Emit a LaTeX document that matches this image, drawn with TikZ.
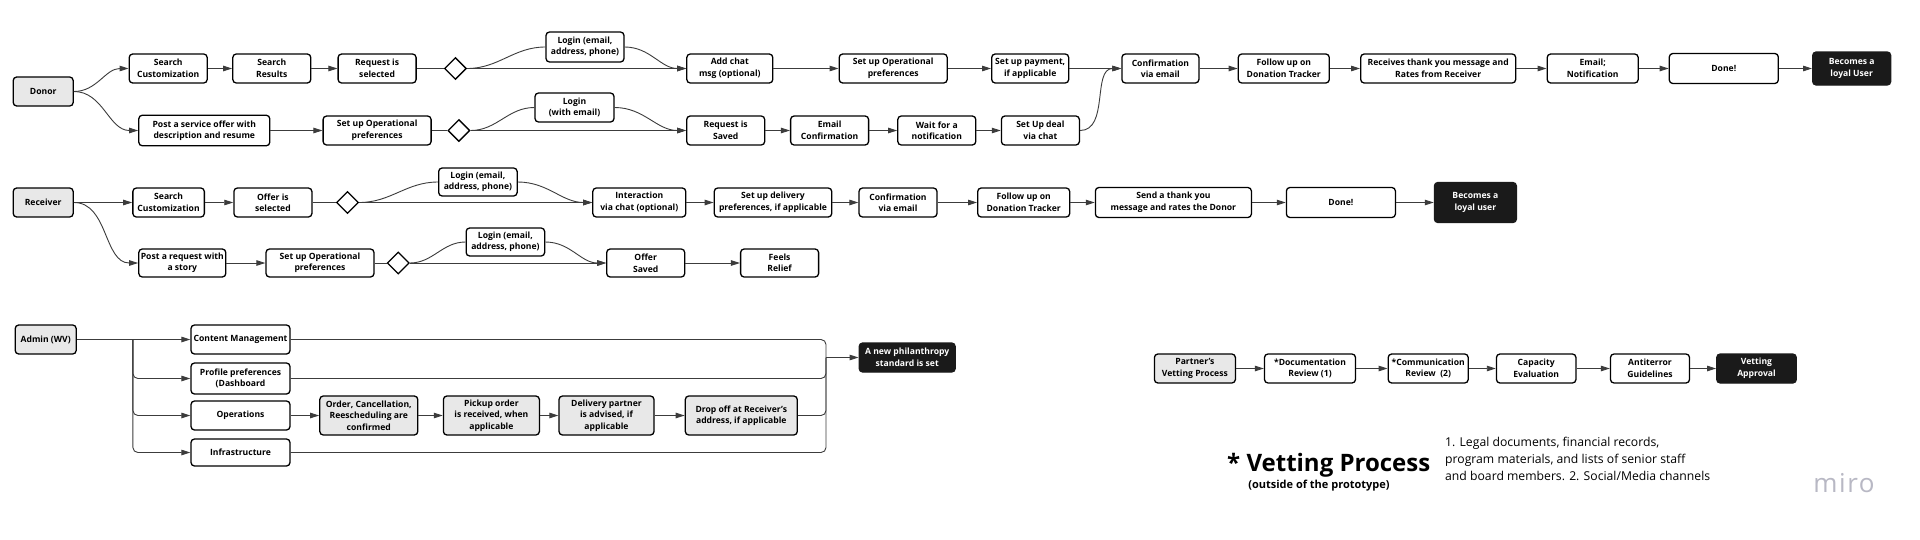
\documentclass[tikz,border=0pt]{standalone}
\usepackage{fontspec}
\setmainfont{Open Sans}
\usetikzlibrary{shapes.geometric,arrows.meta}
\definecolor{boxgray}{HTML}{E8E8E8}
\definecolor{boxblack}{HTML}{1A1A1A}
\definecolor{linegray}{HTML}{3C3C3C}
\definecolor{mirogray}{HTML}{B8B8C4}
\begin{document}
\begin{tikzpicture}[x=1pt,y=-1pt,
  box/.style={draw=black, line width=1.3pt, rounded corners=3.5pt, fill=white, align=center, inner sep=1pt,
    font=\bfseries\fontsize{8.6}{11.5}\selectfont, minimum height=29pt},
  gbox/.style={box, fill=boxgray},
  bbox/.style={box, fill=boxblack, draw=boxblack, text=white},
  dia/.style={draw=black, line width=1.3pt, diamond, aspect=1, minimum width=22pt, minimum height=22pt, inner sep=0pt, fill=white},
  ln/.style={draw=linegray, line width=0.9pt},
  arr/.style={ln, -{Stealth[length=9pt,width=5.5pt,inset=0pt]}},
]
\fill[white] (0,0) rectangle (1920,539);
\useasboundingbox (0,0) rectangle (1920,539);

% ---------- Donor ----------
\node[gbox, minimum width=60pt] (donor) at (43.2,91.5) {Donor};
\node[box, minimum width=78pt] (d1) at (168.2,68.5) {Search\\Customization};
\node[box, minimum width=78pt] (d2) at (271.8,68.5) {Search\\Results};
\node[box, minimum width=78pt] (d3) at (377.1,68.5) {Request is\\selected};
\node[dia] (dia1) at (455.4,68.5) {};
\node[box, minimum width=78pt, minimum height=30pt] (dl1) at (585,47) {Login (email,\\address, phone)};
\node[box, minimum width=86pt] (d4) at (729.8,68.5) {Add chat\\msg (optional)};
\node[box, minimum width=108pt] (d5) at (893.2,68.5) {Set up Operational\\preferences};
\node[box, minimum width=77pt] (d6) at (1030.2,68.5) {Set up payment,\\if applicable};
\node[box, minimum width=77pt] (d7) at (1160.4,68.5) {Confirmation\\via email};
\node[box, minimum width=91pt] (d8) at (1283.8,68.5) {Follow up on\\Donation Tracker};
\node[box, minimum width=155pt] (d9) at (1438.2,68.5) {Receives thank you message and\\Rates from Receiver};
\node[box, minimum width=91pt] (d10) at (1592.7,68.5) {Email;\\Notification};
\node[box, minimum width=109pt, minimum height=30pt] (d11) at (1723.8,68.5) {Done!};
\node[bbox, minimum width=78pt, minimum height=33pt] (d12) at (1851.7,68.5) {Becomes a\\loyal User};

\node[box, minimum width=131pt, minimum height=30.5pt] (e1) at (204.3,130.5) {Post a service offer with\\description and resume};
\node[box, minimum width=108pt] (e2) at (377.1,130.5) {Set up Operational\\preferences};
\node[dia] (dia2) at (458.9,130.5) {};
\node[box, minimum width=79pt] (el1) at (574.5,107.5) {Login\\(with email)};
\node[box, minimum width=78pt] (e3) at (725.7,130.5) {Request is\\Saved};
\node[box, minimum width=78pt] (e4) at (829.6,130.5) {Email\\Confirmation};
\node[box, minimum width=78pt] (e5) at (936.8,130.5) {Wait for a\\notification};
\node[box, minimum width=78pt] (e6) at (1040.4,130.5) {Set Up deal\\via chat};

\draw[arr] (donor.east) to[out=0,in=180] (d1.west);
\draw[arr] (donor.east) to[out=0,in=180] (e1.west);
\draw[arr] (d1) -- (d2);
\draw[arr] (d2) -- (d3);
\draw[ln] (d3) -- (dia1);
\draw[ln] (dia1.east) to[out=0,in=180] (dl1.west);
\draw[arr] (dl1.east) to[out=0,in=180] (d4.west);
\draw[arr] (dia1.east) -- (d4.west);
\draw[arr] (d4) -- (d5);
\draw[arr] (d5) -- (d6);
\draw[arr] (d6) -- (d7);
\draw[arr] (d7) -- (d8);
\draw[arr] (d8) -- (d9);
\draw[arr] (d9) -- (d10);
\draw[arr] (d10) -- (d11);
\draw[arr] (d11) -- (d12);
\draw[arr] (e1) -- (e2);
\draw[ln] (e2) -- (dia2);
\draw[ln] (dia2.east) to[out=0,in=180] (el1.west);
\draw[arr] (el1.east) to[out=0,in=180] (e3.west);
\draw[arr] (dia2.east) -- (e3.west);
\draw[arr] (e3) -- (e4);
\draw[arr] (e4) -- (e5);
\draw[arr] (e5) -- (e6);
\draw[arr] (e6.east) to[out=0,in=180] (d7.west);

% ---------- Receiver ----------
\node[gbox, minimum width=60pt] (recv) at (43.2,202.5) {Receiver};
\node[box, minimum width=71.5pt] (r1) at (168.6,202.5) {Search\\Customization};
\node[box, minimum width=78pt] (r2) at (272.9,202.5) {Offer is\\selected};
\node[dia] (dia3) at (347.5,202.5) {};
\node[box, minimum width=78.5pt, minimum height=28pt] (rl1) at (477.9,182) {Login (email,\\address, phone)};
\node[box, minimum width=93pt] (r3) at (639.3,202.5) {Interaction\\via chat (optional)};
\node[box, minimum width=117.5pt] (r4) at (773,202.5) {Set up delivery\\preferences, if applicable};
\node[box, minimum width=78pt] (r5) at (898,202.5) {Confirmation\\via email};
\node[box, minimum width=92pt] (r6) at (1023.7,202.5) {Follow up on\\Donation Tracker};
\node[box, minimum width=156pt, minimum height=30pt] (r7) at (1173.4,202.5) {Send a thank you\\message and rates the Donor};
\node[box, minimum width=109pt, minimum height=30pt] (r8) at (1340.9,202.5) {Done!};
\node[bbox, minimum width=82pt, minimum height=40pt] (r9) at (1475.4,202.5) {Becomes a\\loyal user};

\node[box, minimum width=87pt, minimum height=28pt] (s1) at (182.3,263) {Post a request with\\a story};
\node[box, minimum width=108pt, minimum height=28pt] (s2) at (320,263) {Set up Operational\\preferences};
\node[dia] (dia4) at (398.2,263) {};
\node[box, minimum width=78.5pt, minimum height=28pt] (sl1) at (505.4,242) {Login (email,\\address, phone)};
\node[box, minimum width=78pt, minimum height=28pt] (s3) at (645.7,263) {Offer\\Saved};
\node[box, minimum width=78pt, minimum height=28pt] (s4) at (779.6,263) {Feels\\Relief};

\draw[arr] (recv) -- (r1);
\draw[arr] (recv.east) to[out=0,in=180] (s1.west);
\draw[arr] (r1) -- (r2);
\draw[ln] (r2) -- (dia3);
\draw[ln] (dia3.east) to[out=0,in=180] (rl1.west);
\draw[arr] (rl1.east) to[out=0,in=180] (r3.west);
\draw[arr] (dia3.east) -- (r3.west);
\draw[arr] (r3) -- (r4);
\draw[arr] (r4) -- (r5);
\draw[arr] (r5) -- (r6);
\draw[arr] (r6) -- (r7);
\draw[arr] (r7) -- (r8);
\draw[arr] (r8) -- (r9);
\draw[arr] (s1) -- (s2);
\draw[ln] (s2) -- (dia4);
\draw[ln] (dia4.east) to[out=0,in=180] (sl1.west);
\draw[arr] (sl1.east) to[out=0,in=180] (s3.west);
\draw[arr] (dia4.east) -- (s3.west);
\draw[arr] (s3) -- (s4);

% ---------- Admin ----------
\node[gbox, minimum width=61pt] (adm) at (45.7,339.5) {Admin (WV)};
\node[box, minimum width=99pt] (a1) at (240.5,339.5) {Content Management};
\node[box, minimum width=99pt, minimum height=31pt] (a2) at (240.5,378.5) {Profile preferences\\(Dashboard};
\node[box, minimum width=99pt] (a3) at (240.5,415.5) {Operations};
\node[box, minimum width=99pt, minimum height=27pt] (a4) at (240.5,452.5) {Infrastructure};
\node[gbox, minimum width=98pt, minimum height=39pt] (o1) at (368.8,415.5) {Order, Cancellation,\\Reescheduling are\\confirmed};
\node[gbox, minimum width=96pt, minimum height=39pt] (o2) at (491.4,415.5) {Pickup order\\is received, when\\applicable};
\node[gbox, minimum width=95pt, minimum height=39pt] (o3) at (606.5,415.5) {Delivery partner\\is advised, if\\applicable};
\node[gbox, minimum width=112pt, minimum height=39pt] (o4) at (741.3,415.5) {Drop off at Receiver's\\address, if applicable};
\node[bbox, minimum width=96pt] (phil) at (907.2,357.5) {A new philanthropy\\standard is set};
\coordinate (br) at (132.9,339.5);
\coordinate (mg) at (826,357.5);

\draw[arr] (adm.east) -- (a1.west);
\draw[arr, rounded corners=5pt] (br) |- (a2.west);
\draw[arr, rounded corners=5pt] (br) |- (a3.west);
\draw[arr, rounded corners=5pt] (br) |- (a4.west);
\draw[arr] (a3) -- (o1);
\draw[arr] (o1) -- (o2);
\draw[arr] (o2) -- (o3);
\draw[arr] (o3) -- (o4);
\draw[ln, rounded corners=5pt] (a1.east) -| (mg);
\draw[ln, rounded corners=5pt] (a2.east) -| (mg);
\draw[ln, rounded corners=5pt] (o4.east) -| (mg);
\draw[ln, rounded corners=5pt] (a4.east) -| (mg);
\draw[arr] (mg) -- (phil.west);

% ---------- Vetting ----------
\node[gbox, minimum width=81pt] (v0) at (1194.9,368.5) {Partner's\\Vetting Process};
\node[box, minimum width=91pt] (v1) at (1310,368.5) {*Documentation\\Review (1)};
\node[box, minimum width=80pt] (v2) at (1428.2,368.5) {*Communication\\Review~~(2)};
\node[box, minimum width=79.5pt] (v3) at (1536.2,368.5) {Capacity\\Evaluation};
\node[box, minimum width=79pt] (v4) at (1650,368.5) {Antiterror\\Guidelines};
\node[bbox, minimum width=79.5pt] (v5) at (1756.5,368.5) {Vetting\\Approval};
\draw[arr] (v0) -- (v1);
\draw[arr] (v1) -- (v2);
\draw[arr] (v2) -- (v3);
\draw[arr] (v3) -- (v4);
\draw[arr] (v4) -- (v5);

% ---------- Notes ----------
\node[font=\bfseries\fontsize{24}{27}\selectfont, anchor=base west, inner sep=0pt] (title) at (1227,471) {* Vetting Process};
\node[font=\bfseries\fontsize{11}{13}\selectfont, inner sep=0pt] (sub) at (1319,486) {(outside of the prototype)};
\node[font=\fontsize{12.2}{17}\selectfont, align=left, anchor=north west, inner sep=0pt] (notes) at (1445,437) {1. Legal documents, financial records,\\program materials, and lists of senior staff\\and board members. 2. Social/Media channels};
\node[font=\addfontfeature{LetterSpace=6}\fontsize{26}{26}\selectfont, text=mirogray, inner sep=0pt] (miro) at (1844,483) {miro};
\end{tikzpicture}
\end{document}
